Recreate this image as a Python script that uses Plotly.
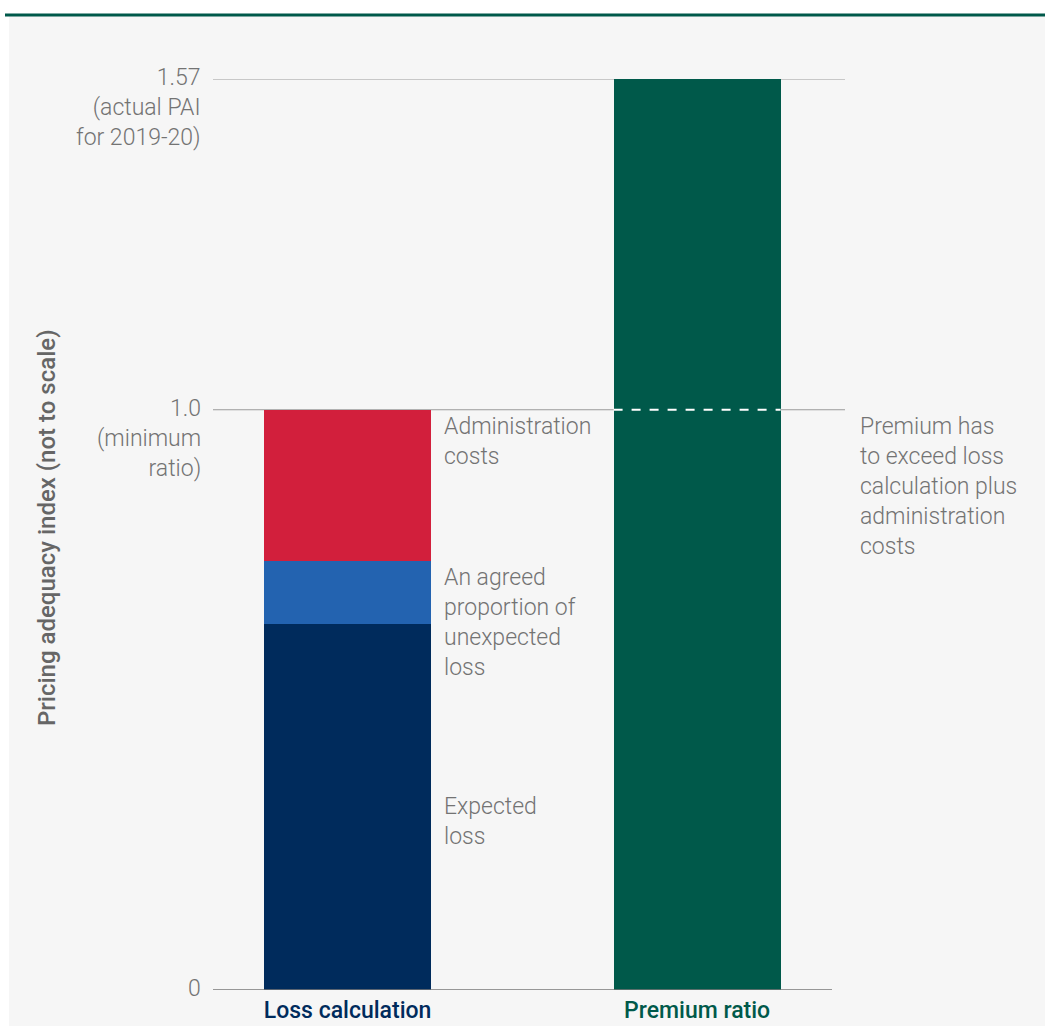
import plotly.graph_objects as go

# ---- data ----
categories = ["Loss calculation", "Premium ratio"]
expected_loss = [0.63, 0]
unexpected_loss = [0.11, 0]
admin_costs = [0.26, 0]
premium_ratio = [0, 1.57]

segment_labels = ["Expected<br>loss", "An agreed<br>proportion of<br>unexpected<br>loss", "Administration<br>costs"]
ytick_vals = [0, 1.0, 1.57]
ytick_labels = ["0", "1.0<br>(minimum<br>ratio)", "1.57<br>(actual PAI<br>for 2019-20)"]
note_text = "Premium has<br>to exceed loss<br>calculation plus<br>administration<br>costs"
y_title = "Pricing adequacy index (not to scale)"

NAVY = "#002b5c"
BLUE = "#2363b0"
RED = "#d21f3c"
GREEN = "#00594a"
GREY_TXT = "#737373"
FONT = "Roboto"
TXT_SIZE = 23

W, H = 1045, 1026
L, R, T, B = 213, 1045 - 845, 79, 1026 - 990
pw, ph = W - L - R, H - T - B

def px_x(p):
    return (p - L) / pw

def px_y(p):
    return (H - B - p) / ph

xpos = [0, 1]
bw = 0.478

fig = go.Figure()
for vals, col in [(expected_loss, NAVY), (unexpected_loss, BLUE), (admin_costs, RED), (premium_ratio, GREEN)]:
    fig.add_trace(go.Bar(x=xpos, y=vals, marker=dict(color=col, line=dict(width=0)),
                         width=bw, hoverinfo="skip", showlegend=False))

shapes = []
shapes.append(dict(type="rect", xref="paper", yref="paper", x0=px_x(9), x1=px_x(1045),
                   y0=px_y(1026), y1=px_y(16), fillcolor="#f6f6f6", line=dict(width=0), layer="below"))
shapes.append(dict(type="line", xref="paper", yref="paper", x0=px_x(5), x1=px_x(1045),
                   y0=px_y(15), y1=px_y(15), line=dict(color="#00594a", width=3), layer="below"))
for v in ytick_vals[1:]:
    shapes.append(dict(type="line", xref="paper", yref="y", x0=0, x1=1, y0=v, y1=v,
                       line=dict(color="#9a9a9a", width=1.2), layer="below"))
shapes.append(dict(type="line", xref="paper", yref="y", x0=0, x1=px_x(832), y0=0, y1=0,
                   line=dict(color="#777777", width=1.5), layer="above"))
shapes.append(dict(type="line", xref="x", yref="y", x0=1 - bw / 2, x1=1 + bw / 2,
                   y0=ytick_vals[1], y1=ytick_vals[1],
                   line=dict(color="white", width=2, dash="dash"), layer="above"))

txt_font = dict(family=FONT, size=TXT_SIZE, color=GREY_TXT, weight=300)
annotations = []
for v, t in zip(ytick_vals, ytick_labels):
    annotations.append(dict(x=px_x(203), xref="paper", y=v, yref="y", text=t, showarrow=False,
                            xanchor="right", yanchor="top", align="right", yshift=17,
                            font=txt_font))
seg_tops = [expected_loss[0] - 0.285, expected_loss[0] + unexpected_loss[0],
            expected_loss[0] + unexpected_loss[0] + admin_costs[0]]
for t, yv in zip(segment_labels, seg_tops):
    annotations.append(dict(x=px_x(442), xref="paper", y=yv, yref="y", text=t, showarrow=False,
                            xanchor="left", yanchor="top", align="left", yshift=-1,
                            font=txt_font))
annotations.append(dict(x=px_x(858), xref="paper", y=ytick_vals[1], yref="y", text=note_text, showarrow=False,
                        xanchor="left", yanchor="top", align="left", yshift=-1,
                        font=txt_font))
annotations.append(dict(x=px_x(47), xref="paper", y=px_y(528), yref="paper", text=y_title, showarrow=False,
                        textangle=-90, xanchor="center", yanchor="middle",
                        font=dict(family=FONT, size=24, color="#666666", weight=500)))

fig.update_layout(
    width=W, height=H,
    margin=dict(l=L, r=R, t=T, b=B, pad=0, autoexpand=False),
    paper_bgcolor="white", plot_bgcolor="rgba(0,0,0,0)",
    barmode="stack", bargap=0,
    shapes=shapes, annotations=annotations,
    xaxis=dict(range=[-0.385, 1.423], tickvals=xpos,
               ticktext=[f"<span style='color:{NAVY}'>{categories[0]}</span>",
                         f"<span style='color:{GREEN}'>{categories[1]}</span>"],
               tickfont=dict(family=FONT, size=23, weight=500), showgrid=False, zeroline=False,
               showline=False, ticks="", ticklabelstandoff=4, automargin=False),
    yaxis=dict(range=[0, 1.57], showticklabels=False, showgrid=False, zeroline=False,
               showline=False, ticks="", automargin=False),
)

fig.write_html("out.html")
